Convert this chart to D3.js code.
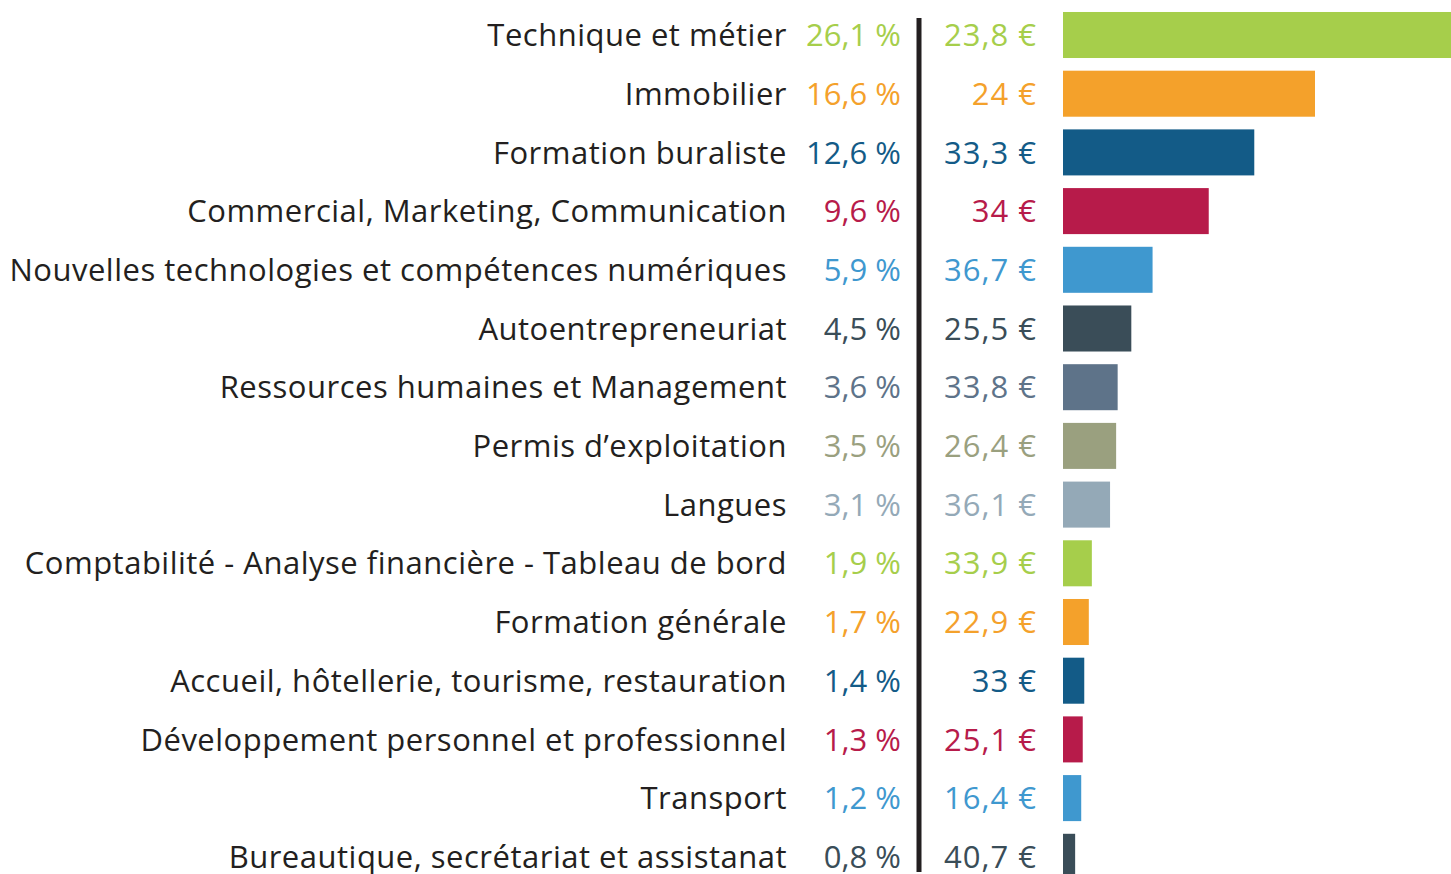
<!DOCTYPE html>
<html>
<head>
<meta charset="utf-8">
<script src="https://cdn.jsdelivr.net/npm/d3@7"></script>
<style>
  body { margin: 0; background: #fff; }
  svg { display: block; }
  text { font-family: "Open Sans", "Noto Sans", sans-serif; }
</style>
</head>
<body>
<svg id="chart" width="1451" height="874"></svg>
<script>
const categories = [
    'Technique et métier',
    'Immobilier',
    'Formation buraliste',
    'Commercial, Marketing, Communication',
    'Nouvelles technologies et compétences numériques',
    'Autoentrepreneuriat',
    'Ressources humaines et Management',
    'Permis d’exploitation',
    'Langues',
    'Comptabilité - Analyse financière - Tableau de bord',
    'Formation générale',
    'Accueil, hôtellerie, tourisme, restauration',
    'Développement personnel et professionnel',
    'Transport',
    'Bureautique, secrétariat et assistanat'
];
const shares = [26.1, 16.6, 12.6, 9.6, 5.9, 4.5, 3.6, 3.5, 3.1, 1.9, 1.7, 1.4, 1.3, 1.2, 0.8];
const prices = [23.8, 24, 33.3, 34, 36.7, 25.5, 33.8, 26.4, 36.1, 33.9, 22.9, 33, 25.1, 16.4, 40.7];
const colors = ['#a6ce4b', '#f4a12b', '#135b87', '#b71b4a', '#3f98cf', '#3a4d58', '#5e7389',
    '#9aa07f', '#94a9b7', '#a6ce4b', '#f4a12b', '#135b87', '#b71b4a', '#3f98cf', '#3a4d58'];

const FONT_SIZE = 31;
const STEP = 58.7;

var svg = d3.select('#chart');

var y = d3.scaleBand()
    .domain(categories)
    .range([5.65, 5.65 + STEP * categories.length])
    .paddingInner(0.216)
    .paddingOuter(0.108);

var x = d3.scaleLinear()
    .domain([0, 16.6])
    .range([1063, 1315]);

var fr = d3.formatLocale({ decimal: ',', thousands: ' ', grouping: [3], currency: ['', ' €'] });
var fmt = function(v) {
    return Number.isInteger(v) ? fr.format('d')(v) : fr.format('.1f')(v);
};

var rows = svg.selectAll('g.row')
    .data(categories)
    .join('g')
    .attr('class', 'row')
    .attr('transform', (d) => 'translate(0,' + (y(d) + y.bandwidth() / 2) + ')');

rows.append('text')
    .attr('x', 787)
    .attr('dy', '0.36em')
    .attr('text-anchor', 'end')
    .attr('font-size', FONT_SIZE)
    .attr('letter-spacing', 0.5)
    .attr('fill', '#231f20')
    .text((d) => d);

rows.append('text')
    .attr('x', 901)
    .attr('dy', '0.36em')
    .attr('text-anchor', 'end')
    .attr('font-size', FONT_SIZE)
    .attr('fill', (d, i) => colors[i])
    .text((d, i) => fmt(shares[i]) + ' %');

rows.append('text')
    .attr('x', 1037)
    .attr('dy', '0.36em')
    .attr('text-anchor', 'end')
    .attr('font-size', FONT_SIZE)
    .attr('letter-spacing', 1)
    .attr('fill', (d, i) => colors[i])
    .text((d, i) => fmt(prices[i]) + ' €');

svg.selectAll('rect.bar')
    .data(categories)
    .join('rect')
    .attr('class', 'bar')
    .attr('x', x(0))
    .attr('y', (d) => y(d))
    .attr('width', (d, i) => x(shares[i]) - x(0))
    .attr('height', y.bandwidth())
    .attr('fill', (d, i) => colors[i]);

svg.append('line')
    .attr('x1', 919)
    .attr('x2', 919)
    .attr('y1', 18)
    .attr('y2', 872)
    .attr('stroke', '#231f20')
    .attr('stroke-width', 5);
</script>
</body>
</html>
